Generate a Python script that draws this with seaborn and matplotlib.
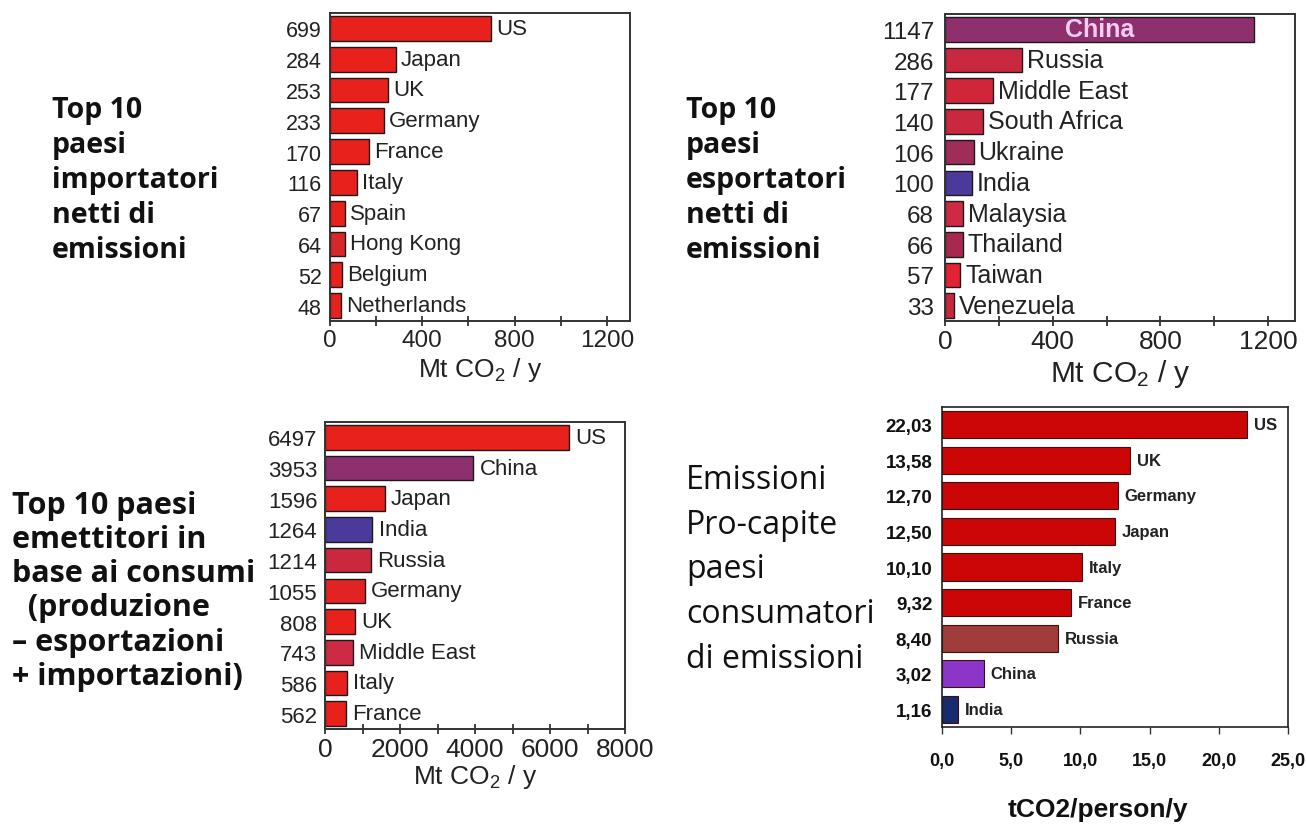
import matplotlib
matplotlib.use("Agg")
import matplotlib.pyplot as plt
from matplotlib.ticker import MultipleLocator, FuncFormatter
import seaborn as sns
import pandas as pd

sns.set_theme(style="white")
plt.rcParams["font.family"] = ["Liberation Sans", "DejaVu Sans"]
plt.rcParams["mathtext.fontset"] = "custom"
plt.rcParams["mathtext.rm"] = "Liberation Sans"
plt.rcParams["mathtext.it"] = "Liberation Sans:italic"

# --- data -------------------------------------------------------------
importers = ["US", "Japan", "UK", "Germany", "France", "Italy", "Spain",
             "Hong Kong", "Belgium", "Netherlands"]
importer_mt = [699, 284, 253, 233, 170, 116, 67, 64, 52, 48]
importer_colors = ["#e8211d", "#e8211d", "#e8211d", "#e8211d", "#e8211d",
                   "#e8211d", "#e8211d", "#d9262a", "#e8211d", "#e8211d"]

exporters = ["China", "Russia", "Middle East", "South Africa", "Ukraine",
             "India", "Malaysia", "Thailand", "Taiwan", "Venezuela"]
exporter_mt = [1147, 286, 177, 140, 106, 100, 68, 66, 57, 33]
exporter_colors = ["#8e2f6e", "#c9283f", "#d1263a", "#c9283f", "#a02c5a",
                   "#4b3a9c", "#cd2a44", "#a8294f", "#e22332", "#c8283c"]

consumers = ["US", "China", "Japan", "India", "Russia", "Germany", "UK",
             "Middle East", "Italy", "France"]
consumer_mt = [6497, 3953, 1596, 1264, 1214, 1055, 808, 743, 586, 562]
consumer_colors = ["#e8211d", "#8e2f6e", "#e8211d", "#4b3a9c", "#c9283f",
                   "#e22323", "#e8211d", "#cd2a44", "#e8211d", "#e8211d"]

percap = ["US", "UK", "Germany", "Japan", "Italy", "France", "Russia",
          "China", "India"]
percap_t = [22.03, 13.58, 12.70, 12.50, 10.10, 9.32, 8.40, 3.02, 1.16]
percap_colors = ["#cc0606", "#cc0606", "#cc0606", "#cc0606", "#cc0606",
                 "#cc0606", "#a03c3c", "#8b35c9", "#172b6e"]

W, H = 1306, 828
fig = plt.figure(figsize=(W / 100, H / 100), dpi=100)
fig.patch.set_facecolor("white")


def add_axes_px(left, top, right, bottom):
    return fig.add_axes([left / W, 1 - bottom / H, (right - left) / W,
                         (bottom - top) / H])


def bar_panel(ax, names, vals, colors, labels, width, edge, lw):
    df = pd.DataFrame({"name": names, "val": vals})
    sns.barplot(data=df, x="val", y="name", hue="name", palette=colors,
                orient="h", width=width, edgecolor=edge, linewidth=lw,
                saturation=1, legend=False, ax=ax)
    ax.set_yticks(range(len(names)))
    ax.set_yticklabels(labels)
    ax.set_ylabel("")
    ax.set_xlabel("")


side = ["Open Sans", "Lato", "DejaVu Sans"]
xlab = "Mt CO$_\\mathregular{2}$ / y"


def style_mt(ax, xmax, major, minor, xsize, ysize, labsize, ypad, lpad):
    ax.set_xlim(0, xmax)
    ax.xaxis.set_major_locator(MultipleLocator(major))
    ax.xaxis.set_minor_locator(MultipleLocator(minor))
    ax.tick_params(axis="x", which="both", direction="inout", length=7,
                   width=1.2, color="#222222", bottom=True, labelsize=xsize,
                   pad=2, labelcolor="#222222")
    ax.tick_params(axis="y", length=0, labelsize=ysize, pad=ypad,
                   labelcolor="#222222")
    for s in ax.spines.values():
        s.set_color("#333333")
        s.set_linewidth(1.4)
    ax.set_xlabel(xlab, fontsize=labsize, color="#222222", labelpad=lpad)


def country_labels(ax, names, vals, size, off, skip=(), **kw):
    for i, (n, v) in enumerate(zip(names, vals)):
        if n in skip:
            continue
        ax.annotate(n, (v, i), xytext=(off, 0), textcoords="offset points",
                    va="center", ha="left", fontsize=size, color="#222222",
                    **kw)


# panel 1: net importers
ax1 = add_axes_px(330, 14, 630, 322)
bar_panel(ax1, importers, importer_mt, importer_colors,
          [str(v) for v in importer_mt], 0.8, "#1a1a1a", 1.0)
style_mt(ax1, 1300, 400, 200, 17.5, 15.5, 19, 6, 3)
country_labels(ax1, importers, importer_mt, 16, 3.5)

# panel 2: net exporters
ax2 = add_axes_px(945, 15, 1295, 322)
bar_panel(ax2, exporters, exporter_mt, exporter_colors,
          [str(v) for v in exporter_mt], 0.8, "#1a1a1a", 1.0)
style_mt(ax2, 1300, 400, 200, 19, 17.5, 21.5, 8, 3)
country_labels(ax2, exporters, exporter_mt, 18, 3.5, skip=("China",))
ax2.text(exporter_mt[0] / 2, 0, "China", ha="center", va="center",
         fontsize=18, fontweight="bold", color="#f6cdf0")

# panel 3: consumption-based emitters
ax3 = add_axes_px(325, 423, 625, 730)
bar_panel(ax3, consumers, consumer_mt, consumer_colors,
          [str(v) for v in consumer_mt], 0.8, "#1a1a1a", 1.0)
style_mt(ax3, 8000, 2000, 1000, 19, 16, 19, 5.5, 1)
country_labels(ax3, consumers, consumer_mt, 16, 4.5)

# panel 4: per-capita consumption emissions
ax4 = add_axes_px(942, 408, 1288, 728)
bar_panel(ax4, percap, percap_t, percap_colors,
          [f"{v:.2f}".replace(".", ",") for v in percap_t], 0.76,
          "#3a1010", 0.8)
ax4.set_xlim(0, 25)
ax4.xaxis.set_major_locator(MultipleLocator(5))
ax4.xaxis.set_major_formatter(FuncFormatter(
    lambda x, _: f"{x:.1f}".replace(".", ",")))
ax4.tick_params(axis="x", direction="out", length=5, width=1.0,
                color="#333333", bottom=True, pad=13, labelsize=13,
                labelcolor="#111111")
ax4.tick_params(axis="y", length=0, pad=7, labelsize=13.5,
                labelcolor="#111111")
for lab in ax4.get_xticklabels() + ax4.get_yticklabels():
    lab.set_fontweight("bold")
for s in ax4.spines.values():
    s.set_color("#222222")
    s.set_linewidth(1.2)
ax4.set_xlabel("tCO2/person/y", fontweight="bold", fontsize=19,
               color="#111111")
ax4.xaxis.set_label_coords(0.45, -0.22)
country_labels(ax4, percap, percap_t, 12, 5, fontweight="bold")

# side captions
fig.text(52 / W, 1 - 96 / H,
         "Top 10\npaesi\nimportatori\nnetti di\nemissioni",
         family=side, fontweight="bold", fontsize=20.5, va="top", ha="left",
         linespacing=1.27, color="#111111")
fig.text(686 / W, 1 - 96 / H,
         "Top 10\npaesi\nesportatori\nnetti di\nemissioni",
         family=side, fontweight="bold", fontsize=20.5, va="top", ha="left",
         linespacing=1.27, color="#111111")
fig.text(12 / W, 1 - 491 / H,
         "Top 10 paesi\nemettitori in\nbase ai consumi\n  (produzione\n"
         "\u2013 esportazioni\n+ importazioni)",
         family=side, fontweight="bold", fontsize=22, va="top", ha="left",
         linespacing=1.18, color="#111111")
fig.text(686 / W, 1 - 464 / H,
         "Emissioni\nPro-capite\npaesi\nconsumatori\ndi emissioni",
         family=side, fontweight="normal", fontsize=23, va="top", ha="left",
         linespacing=1.47, color="#111111")

fig.savefig("out.png", dpi=100, facecolor="white")
